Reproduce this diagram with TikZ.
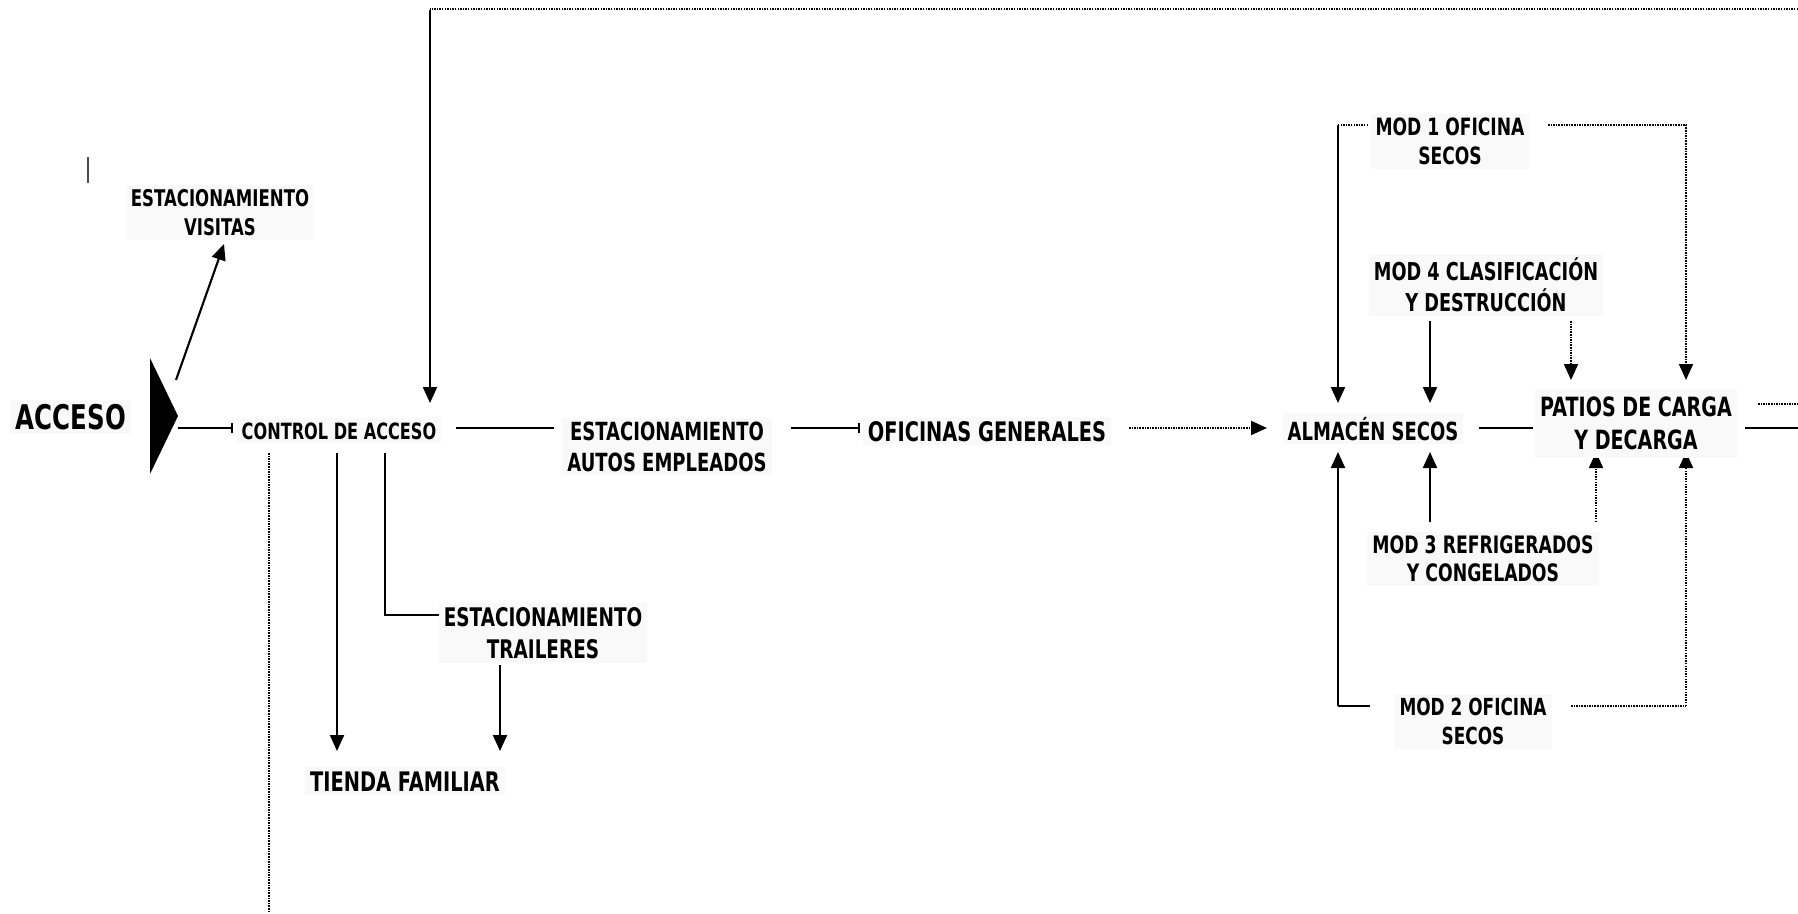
\documentclass[tikz,border=0pt]{standalone}
\usepackage{fontspec}
\newfontfamily\lbl{DejaVu Sans}[FakeStretch=0.72]
\usetikzlibrary{arrows.meta}
\pgfdeclarelayer{back}
\pgfsetlayers{back,main}

\begin{document}
\begin{tikzpicture}[x=1pt,y=-1pt,
  lbl/.style n args={2}{font=\lbl\bfseries\fontsize{#1}{#2}\selectfont,
    fill=black!2.5, inner xsep=5pt, inner ysep=4pt, align=center},
  link/.style={line width=2.1pt},
  dot/.style={line width=1.9pt, dash pattern=on 1.5pt off 1.1pt},
  tip/.style={-{Triangle[length=16pt,width=14pt]}},
  stop/.style={-{Bar[width=10pt,line width=1.8pt]}},
]
\useasboundingbox (0,0) rectangle (1798,913);

% ---------- entrance marker ----------
\fill[black] (150,358) -- (178,416) -- (150,474) -- cycle;
\draw[black!70, line width=1.5pt] (88,157) -- (88,183);

% ---------- areas ----------
\node[lbl={34}{40}, anchor=base] (acceso) at (71,429.4) {ACCESO};
\node[lbl={23}{29}] (visitas) at (220,212.5) {ESTACIONAMIENTO\\VISITAS};
\node[lbl={22.4}{28}, anchor=base] (control) at (339,439) {CONTROL DE ACCESO};
\node[lbl={25}{31}] (autos) at (667,446.5) {ESTACIONAMIENTO\\AUTOS EMPLEADOS};
\node[lbl={26.9}{32}, anchor=base] (oficinas) at (987,441) {OFICINAS GENERALES};
\node[lbl={25}{31}, anchor=base] (almacen) at (1373,440) {ALMACÉN SECOS};
\node[lbl={26.5}{33}, inner ysep=8pt] (patios) at (1636,423.5) {PATIOS DE CARGA\\Y DECARGA};
\node[lbl={23.8}{29}] (mod1) at (1450,141.5) {MOD 1 OFICINA\\SECOS};
\node[lbl={24.6}{31}] (mod4) at (1486,285) {MOD 4 CLASIFICACIÓN\\Y DESTRUCCIÓN};
\node[lbl={24}{28}] (mod3) at (1483,559) {MOD 3 REFRIGERADOS\\Y CONGELADOS};
\node[lbl={23.5}{29}] (mod2) at (1473,721.5) {MOD 2 OFICINA\\SECOS};
\node[lbl={25.6}{32}] (trailers) at (543,633) {ESTACIONAMIENTO\\TRAILERES};
\node[lbl={26.9}{32}, anchor=base] (tienda) at (405,791) {TIENDA FAMILIAR};

% ---------- junction points ----------
\coordinate (ret) at (1798,9);
\coordinate (retCorner) at (430,9);
\coordinate (visFrom) at (176,380);
\coordinate (exitSolid) at (1798,428);
\coordinate (exitDot) at (1798,404);
\coordinate (down) at (269,913);
\coordinate (trCorner) at (385,615);
\coordinate (m1L) at (1338,125);
\coordinate (m1R) at (1686,125);
\coordinate (m2L) at (1338,706);
\coordinate (m2R) at (1686,706);

\begin{pgfonlayer}{back}
  % main flow
  \draw[link,stop] (178,428) -- (233,428);
  \draw[link] (456,428) -- (554,428);
  \draw[link,stop] (791,428) -- (860,428);
  \draw[dot,tip] (1129,428) -- (1267,428);
  \draw[link] (1479,428) -- (1533,428);
  \draw[link] (1745,428) -- (exitSolid);
  \draw[dot] (1758,404) -- (exitDot);

  % return loop along the top
  \draw[dot] (ret) -- (retCorner);
  \draw[link,tip] ([yshift=-1pt]retCorner) -- (430,403);

  % visitors parking
  \draw[link,tip] (visFrom) -- (224,244);

  % branches below the access control
  \draw[dot] (269,453) -- (down);
  \draw[link,tip] (337,453) -- (337,751);
  \draw[link] (385,453) -- (trCorner) -- (439,615);
  \draw[link,tip] (500,665) -- (500,751);

  % modules around the dry warehouse and the yards
  \draw[dot] (1368,125) -- (m1L);
  \draw[link,tip] (m1L) -- (1338,403);
  \draw[dot,tip] (1548,125) -- (m1R) -- (1686,380);
  \draw[link,tip] (1430,321) -- (1430,403);
  \draw[dot,tip] (1571,321) -- (1571,380);
  \draw[link,tip] (1430,522) -- (1430,452);
  \draw[dot,tip] (1596,522) -- (1596,452);
  \draw[link] (1370,706) -- (m2L);
  \draw[link,tip] (m2L) -- (1338,452);
  \draw[dot] (1571,706) -- (m2R);
  \draw[dot,tip] (m2R) -- (1686,452);
\end{pgfonlayer}
\end{tikzpicture}
\end{document}
